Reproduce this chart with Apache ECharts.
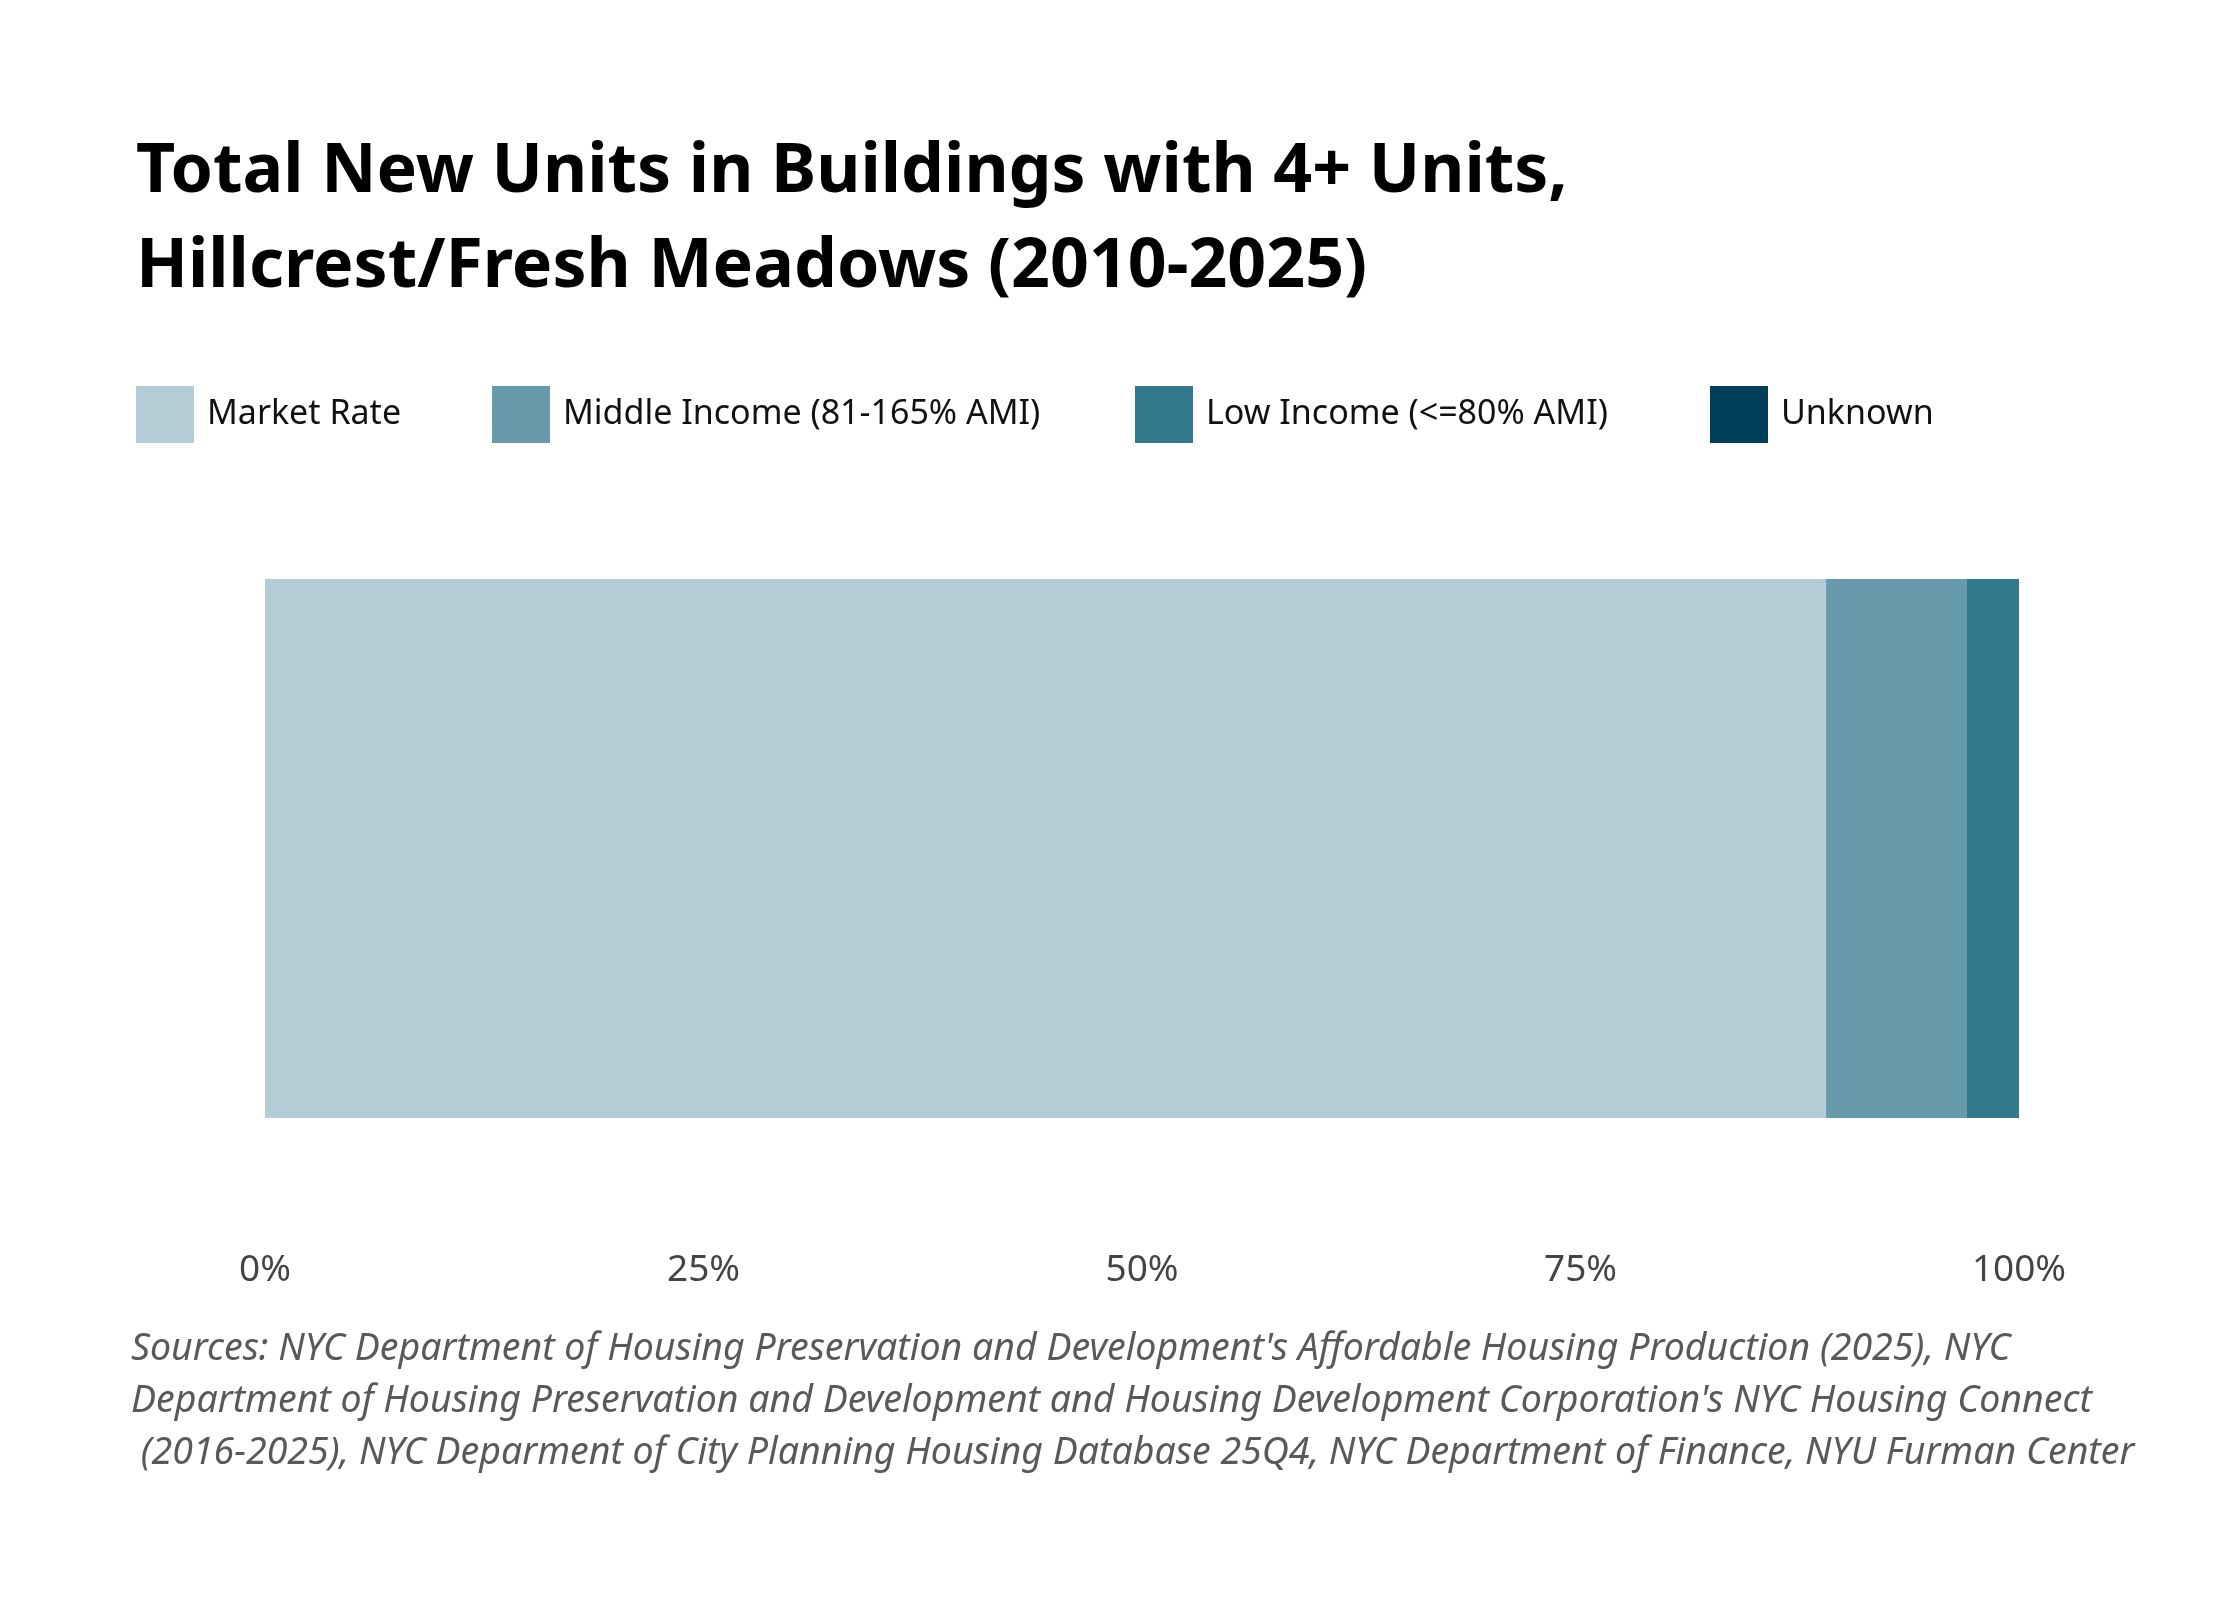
<!DOCTYPE html>
<html>
<head>
<meta charset="utf-8">
<script src="https://cdn.jsdelivr.net/npm/echarts@6/dist/echarts.min.js"></script>
<style>
  html, body { margin: 0; padding: 0; background: #fff; }
  #main { width: 2240px; height: 1600px; }
</style>
</head>
<body>
<div id="main"></div>
<script>
// share of new units, percent
const categories = ['Hillcrest/Fresh Meadows'];
const seriesNames = ['Market Rate', 'Middle Income (81-165% AMI)', 'Low Income (<=80% AMI)', 'Unknown'];
const marketRate = [89.0];
const middleIncome = [8.0];
const lowIncome = [3.0];
const unknown = [0];
const tickLabels = ['0%', '25%', '50%', '75%', '100%'];
const colors = ['#b4ccd5', '#679bab', '#33798e', '#003f5a'];
const sourceLines = [
  "Sources: NYC Department of Housing Preservation and Development's Affordable Housing Production (2025), NYC",
  "Department of Housing Preservation and Development and Housing Development Corporation's NYC Housing Connect",
  " (2016-2025), NYC Deparment of City Planning Housing Database 25Q4, NYC Department of Finance, NYU Furman Center"
];

const allValues = [marketRate, middleIncome, lowIncome, unknown];
const legendLeft = [136, 492, 1135, 1710];

var myChart = echarts.init(document.getElementById('main'));

var option = {
  backgroundColor: '#fff',
  animation: false,
  title: {
    text: 'Total New Units in Buildings with 4+ Units,\nHillcrest/Fresh Meadows (2010-2025)',
    left: 131,
    top: 120,
    textStyle: {
      fontFamily: '"Noto Sans", sans-serif',
      fontSize: 68,
      fontWeight: 'bold',
      lineHeight: 95,
      color: '#000'
    }
  },
  legend: seriesNames.map((n, i) => ({
    data: [n],
    left: legendLeft[i],
    top: 386,
    padding: 0,
    icon: 'rect',
    itemWidth: 58,
    itemHeight: 57,
    selectedMode: false,
    textStyle: {
      fontFamily: '"Noto Sans", sans-serif',
      fontSize: 34,
      color: '#111',
      padding: [0, 0, 0, 8]
    }
  })),
  grid: { left: 265, right: 221, top: 579, height: 539 },
  xAxis: {
    type: 'value',
    min: 0,
    max: 100,
    interval: 25,
    axisLine: { show: false },
    axisTick: { show: false },
    splitLine: { show: false },
    axisLabel: {
      margin: 134,
      fontFamily: '"Noto Sans", sans-serif',
      fontSize: 37,
      color: '#444',
      formatter: v => tickLabels[v / 25]
    }
  },
  yAxis: {
    type: 'category',
    data: categories,
    show: false
  },
  series: seriesNames.map((n, i) => ({
    name: n,
    type: 'bar',
    stack: 'total',
    barWidth: '100%',
    data: allValues[i],
    itemStyle: { color: colors[i] }
  })),
  graphic: sourceLines.map((t, i) => ({
    type: 'text',
    left: 131,
    top: 1330 + i * 52,
    style: {
      text: t,
      fontFamily: '"Noto Sans", sans-serif',
      fontStyle: 'italic',
      fontSize: 37.5,
      fill: '#595959'
    }
  }))
};

myChart.setOption(option);
</script>
</body>
</html>
